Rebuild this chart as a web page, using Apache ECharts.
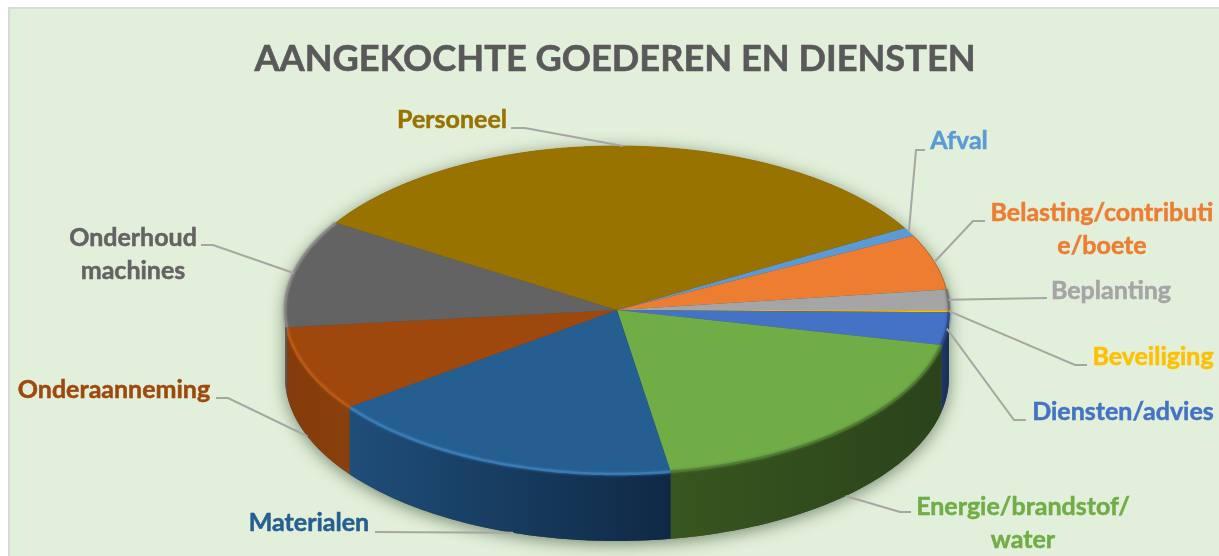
<!DOCTYPE html>
<html>
<head>
<meta charset="utf-8">
<title>Aangekochte goederen en diensten</title>
<script src="https://cdn.jsdelivr.net/npm/echarts@6/dist/echarts.min.js"></script>
<style>
  html, body { margin: 0; padding: 0; background: #fff; }
  #main { width: 1219px; height: 556px; }
</style>
</head>
<body>
<div id="main"></div>
<script>
// waarden (procent)
var categories = ['Afval', 'Belasting/contributie/boete', 'Beplanting', 'Beveiliging', 'Diensten/advies',
  'Energie/brandstof/water', 'Materialen', 'Onderaanneming', 'Onderhoud machines', 'Personeel'];
var values = [0.85, 5.5, 2.0, 0.2, 3.2, 19.0, 17.5, 8.4, 10.6, 32.75];
var labelTexts = ['Afval', 'Belasting/contributi\ne/boete', 'Beplanting', 'Beveiliging', 'Diensten/advies',
  'Energie/brandstof/\nwater', 'Materialen', 'Onderaanneming', 'Onderhoud\nmachines', 'Personeel'];

var topColors = ['#5B9BD5', '#ED7D31', '#A5A5A5', '#FFC000', '#4472C4', '#70AD47', '#255E91', '#9E480E', '#636363', '#997300'];
var textColors = ['#5B9BD5', '#ED7D31', '#A5A5A5', '#FFC000', '#4472C4', '#70AD47', '#255E91', '#9E480E', '#636363', '#997300'];
var wallLeft = ['#2f5f8a', '#8a4a1c', '#555', '#806000', '#1d3766', '#38561f', '#1f4e79', '#833c0b', '#5a5a5a', '#665000'];
var wallRight = ['#2f5f8a', '#8a4a1c', '#555', '#806000', '#1a2f58', '#2b431b', '#0f2945', '#8a400c', '#5a5a5a', '#665000'];
var lipColors = ['#5B9BD5', '#b8642a', '#6e6e6e', '#a07a00', '#2c4a85', '#4f7a33', '#3d7fb8', '#bf5a14', '#8a8a8a', '#997300'];

// positie van de labels en hun knik in de lijn: [tekst x, tekst y, lijn x, lijn y, knik x, knik y, schuif in graden]
var labelLayout = [
  [959, 141, 925, 150, 916, 150, 0],
  [1102, 229, 985, 221, 973, 221, 0],
  [1111, 291, 1047, 298, 1047, 298, 0],
  [1153, 357, 1087, 365, 1075, 365, 0],
  [1123, 412, 1026, 420, 1014, 420, 0],
  [1023, 523, 911, 512, 900, 512, 0],
  [309, 523, 375, 532, 375, 532, -4],
  [114, 390, 216, 398, 228, 398, 0],
  [133, 254, 201, 245, 213, 245, 0],
  [452, 120, 511, 128, 525, 128, 0]
];

var cx = 617, cy = 310, rx = 332, ry = 164, depth = 67;
var startAngle = -30;
var total = values.reduce(function (a, b) { return a + b; }, 0);

function rim(deg, dy) {
  var t = deg * Math.PI / 180;
  return [cx + rx * Math.cos(t), cy + ry * Math.sin(t) + (dy || 0)];
}
function arc(a, b, dy) {
  var pts = [], n = Math.max(2, Math.ceil(Math.abs(b - a)));
  for (var i = 0; i <= n; i++) pts.push(rim(a + (b - a) * i / n, dy));
  return pts;
}
function sliceRange(idx) {
  var sum = 0;
  for (var i = 0; i < idx; i++) sum += values[i];
  var a = startAngle + sum / total * 360;
  return [a, a + values[idx] / total * 360];
}

function renderShadow() {
  var pts = arc(0, 180, depth).concat(arc(180, 360, 0));
  return {
    type: 'polygon',
    shape: { points: pts },
    style: { fill: '#4a4a4a', shadowBlur: 16, shadowColor: 'rgba(50,70,40,0.6)', shadowOffsetY: 3 }
  };
}

function renderSlice(params, api) {
  var idx = params.dataIndex;
  var r = sliceRange(idx);
  var children = [];
  // zijwand, alleen de voorkant is zichtbaar
  var a = Math.max(r[0], 0), b = Math.min(r[1], 180);
  if (b > a) {
    children.push({
      type: 'polygon',
      shape: { points: arc(a, b, 0).concat(arc(b, a, depth)) },
      style: {
        fill: new echarts.graphic.LinearGradient(0, 0, 1, 0, [
          { offset: 0, color: wallLeft[idx] },
          { offset: 1, color: wallRight[idx] }
        ])
      }
    });
  }
  children.push({
    type: 'polygon',
    shape: { points: [[cx, cy]].concat(arc(r[0], r[1], 0)) },
    style: { fill: topColors[idx] }
  });
  // lichte rand langs de bovenkant, aan de achterkant alleen een dun lijntje
  var front = r[1] > 0 && r[0] < 180;
  children.push({
    type: 'polyline',
    shape: { points: arc(r[0], r[1], 0) },
    style: {
      fill: 'none', stroke: lipColors[idx], lineWidth: front ? 2.5 : 1, opacity: 0.85,
      shadowBlur: front ? 3 : 0, shadowColor: lipColors[idx]
    }
  });
  return { type: 'group', children: children };
}

function renderLabel(params, api) {
  var idx = params.dataIndex;
  var r = sliceRange(idx);
  var l = labelLayout[idx];
  var mid = (r[0] + r[1]) / 2 + l[6];
  var s = Math.sin(mid * Math.PI / 180);
  var end = rim(mid, s > 0.2 ? depth : 0);
  return {
    type: 'group',
    children: [
      {
        type: 'polyline',
        shape: { points: [[l[2], l[3]], [l[4], l[5]], end] },
        style: { fill: 'none', stroke: '#a6a6a6', lineWidth: 2 }
      },
      {
        type: 'text',
        style: {
          text: labelTexts[idx], x: l[0], y: l[1], fill: textColors[idx],
          stroke: textColors[idx], lineWidth: 0.5,
          fontFamily: 'Lato', fontWeight: 'bold', fontSize: 25, lineHeight: 33,
          align: 'center', verticalAlign: 'middle'
        }
      }
    ]
  };
}

var chart = echarts.init(document.getElementById('main'));
var sliceData = values.map(function (v, i) { return { name: categories[i], value: v }; });

var option = {
  animation: false,
  backgroundColor: '#fff',
  title: {
    text: 'AANGEKOCHTE GOEDEREN EN DIENSTEN',
    left: 610, top: 36, textAlign: 'center',
    textStyle: {
      fontFamily: 'Lato', fontWeight: 'bold', fontSize: 36.2, color: '#595959',
      textBorderColor: '#595959', textBorderWidth: 0.6
    }
  },
  graphic: [{
    type: 'rect', z: -10, silent: true,
    shape: { x: 9, y: 8, width: 1212, height: 552 },
    style: { fill: '#E2EFDA', stroke: '#D9D9D9', lineWidth: 2 }
  }],
  series: [
    { type: 'custom', coordinateSystem: 'none', silent: true, z: 1, data: [0], renderItem: renderShadow },
    { type: 'custom', coordinateSystem: 'none', silent: true, z: 2, data: sliceData, renderItem: renderSlice },
    { type: 'custom', coordinateSystem: 'none', silent: true, z: 3, data: sliceData, renderItem: renderLabel }
  ]
};
chart.setOption(option);
</script>
</body>
</html>
